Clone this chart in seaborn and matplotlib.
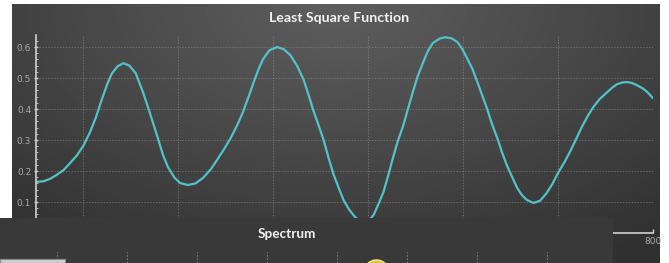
import matplotlib
matplotlib.use('Agg')
import matplotlib.pyplot as plt
import seaborn as sns
import numpy as np
import pandas as pd
from matplotlib.patches import Rectangle

# Courbe (x, valeur)
x_vals = [150, 158, 165, 172, 179, 186, 193, 200, 207, 213, 219, 225, 230, 236,
          242, 248, 255, 263, 270, 278, 284, 289, 296, 302, 310, 318, 326, 334,
          341, 348, 355, 362, 368, 374, 379, 384, 389, 396, 404, 411, 418, 425,
          432, 437, 442, 448, 453, 458, 463, 469, 474, 480, 486, 491, 496, 501,
          506, 511, 516, 521, 526, 531, 537, 542, 547, 552, 558, 563, 568, 575,
          581, 588, 594, 599, 604, 610, 615, 620, 625, 630, 636, 641, 646, 652,
          657, 662, 667, 674, 681, 688, 694, 700, 707, 713, 719, 725, 731, 737,
          744, 752, 757, 762, 768, 773, 778, 783, 789, 794, 800]
y_vals = [0.165, 0.167, 0.175, 0.188, 0.203, 0.226, 0.250, 0.282, 0.326, 0.372,
          0.428, 0.480, 0.515, 0.538, 0.548, 0.541, 0.516, 0.452, 0.387, 0.310,
          0.250, 0.213, 0.178, 0.161, 0.155, 0.160, 0.178, 0.205, 0.237, 0.270,
          0.306, 0.348, 0.390, 0.440, 0.484, 0.525, 0.560, 0.590, 0.600, 0.593,
          0.574, 0.540, 0.494, 0.447, 0.397, 0.345, 0.300, 0.245, 0.193, 0.145,
          0.106, 0.075, 0.052, 0.038, 0.033, 0.040, 0.060, 0.095, 0.132, 0.185,
          0.242, 0.295, 0.348, 0.402, 0.455, 0.505, 0.552, 0.588, 0.613, 0.627,
          0.632, 0.628, 0.616, 0.594, 0.565, 0.528, 0.487, 0.445, 0.403, 0.355,
          0.306, 0.260, 0.219, 0.178, 0.145, 0.122, 0.107, 0.097, 0.104, 0.129,
          0.158, 0.194, 0.230, 0.265, 0.303, 0.342, 0.376, 0.406, 0.433, 0.455,
          0.469, 0.480, 0.486, 0.487, 0.484, 0.477, 0.467, 0.455, 0.435]
x_ticks = [200, 300, 400, 500, 600, 700, 800]
y_ticks = [0.1, 0.2, 0.3, 0.4, 0.5, 0.6]
spectrum_ticks = [0, 1, 2, 3, 4, 5, 6, 7]

TITLE_FONT = ['Lato', 'DejaVu Sans']
LINE_COLOR = '#52c3c9'
W, H = 669, 263

df = pd.DataFrame({'x': x_vals, 'y': y_vals})

fig = plt.figure(figsize=(W / 100, H / 100), dpi=100)
fig.patch.set_facecolor('white')

# Fond du panneau principal (dégradé sombre)
bg = fig.add_axes([12 / W, 0, 648 / W, 259 / H], zorder=0)
gx, gy = np.meshgrid(np.linspace(0, 1, 300), np.linspace(0, 1, 120))
dist = np.sqrt(((gx - 0.5) / 0.75) ** 2 + (gy / 1.1) ** 2)
shade = np.clip(0.37 - 0.17 * dist, 0.19, 0.37)
bg.imshow(shade, cmap='gray', vmin=0, vmax=1, aspect='auto',
          extent=[0, 1, 0, 1], origin='upper')
bg.set_axis_off()

# Graphique principal
ax = fig.add_axes([36 / W, 30 / H, 617 / W, 198 / H], zorder=1)
ax.patch.set_alpha(0)
sns.lineplot(data=df, x='x', y='y', ax=ax, color=LINE_COLOR, linewidth=1.6,
             sort=False, estimator=None, solid_joinstyle='round',
             solid_capstyle='round')
ax.set_xlim(150, 800)
ax.set_ylim(0, 0.639)
ax.set_xticks(x_ticks)
ax.set_xticklabels([str(v) for v in x_ticks])
ax.set_yticks(y_ticks)
ax.set_yticks(np.arange(0, 0.64, 0.02), minor=True)
ax.set_yticklabels([f'{v:.1f}' for v in y_ticks])
ax.grid(True, which='major', color='#8a8a8a', linestyle=(0, (1.5, 1.5)),
        linewidth=0.7, alpha=0.6)
ax.set_xlabel('')
ax.set_ylabel('')
for side in ['top', 'right']:
    ax.spines[side].set_visible(False)
ax.spines['left'].set_color('#d0d0d0')
ax.spines['bottom'].set_color('#d0d0d0')
ax.spines['left'].set_linewidth(1.2)
ax.spines['bottom'].set_linewidth(1.2)
ax.tick_params(axis='y', which='major', colors='#d0d0d0', labelcolor='#a8a8a8',
               labelsize=6.5, length=3, width=1, direction='inout', pad=2)
ax.tick_params(axis='y', which='minor', colors='#d0d0d0', length=1.5,
               width=0.6, direction='in')
ax.tick_params(axis='x', colors='#d0d0d0', labelcolor='#a8a8a8', labelsize=6.5,
               length=3, width=1, direction='in', pad=3)
fig.text(339 / W, 1 - 18 / H, 'Least Square Function', color='#f2f2f2',
         fontsize=10.2, fontweight='bold', ha='center', va='center',
         family=TITLE_FONT)

# Panneau "Spectrum" superposé en bas
sp = fig.add_axes([0, 0, 613 / W, 45 / H], zorder=3)
sp.set_facecolor('#393939')
sp.set_xlim(-57 / 70, (613 - 57) / 70)
sp.set_ylim(0, 1)
for t in spectrum_ticks:
    sp.axvline(t, ymin=0, ymax=0.25, color='#9a9a9a', linestyle=(0, (1.5, 1.5)),
               linewidth=0.8, alpha=0.7)
sp.add_patch(Rectangle((0, 0), 65 / 613, 0.1, transform=sp.transAxes,
                       facecolor='#cfcfcf', edgecolor='#8c8c8c', linewidth=0.8,
                       clip_on=False))
sp.scatter([(376 - 57) / 70], [-0.2], s=320, color='#d8c43a',
           edgecolor='#f0e27a', linewidth=1.2, clip_on=False, zorder=4)
sp.text(0.468, 0.64, 'Spectrum', transform=sp.transAxes, color='#f2f2f2',
        fontsize=9.8, fontweight='bold', ha='center', va='center',
        family=TITLE_FONT)
sp.set_xticks([])
sp.set_yticks([])
for s in sp.spines.values():
    s.set_visible(False)

fig.savefig('out.png', dpi=100, facecolor='white')
plt.close()
